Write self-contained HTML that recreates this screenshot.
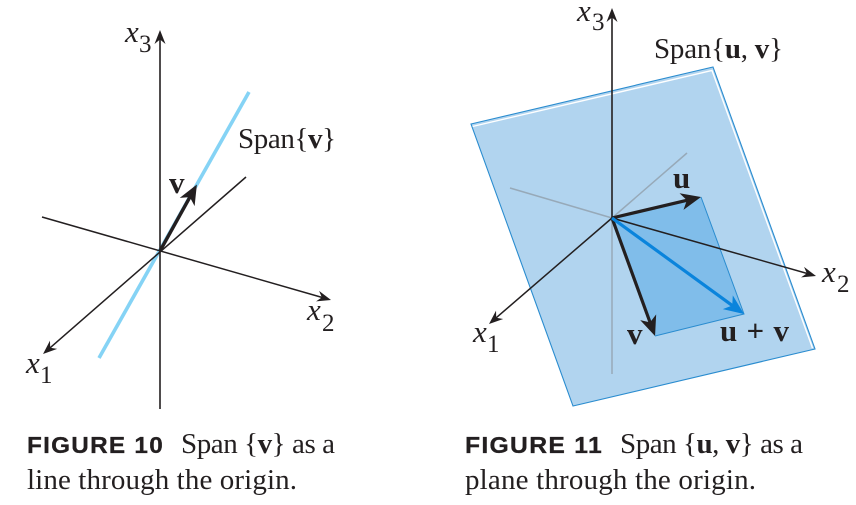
<!DOCTYPE html>
<html><head><meta charset="utf-8"><style>
html,body{margin:0;padding:0;background:#fff}
svg{display:block}
text{font-family:"Liberation Serif",serif;fill:#231f20}
.i{font-style:italic;font-size:31px}
.s{font-size:25px}
.b{font-weight:bold}
.c{font-size:29px}
.l{font-size:31px;font-weight:bold}
.f{font-family:"Liberation Sans",sans-serif;font-weight:bold;font-size:23px;letter-spacing:1.2px;stroke:#231f20;stroke-width:.3px}
</style></head><body>
<svg width="856" height="505" viewBox="0 0 856 505" xmlns="http://www.w3.org/2000/svg">
<defs>
<marker id="a" markerUnits="userSpaceOnUse" markerWidth="30" markerHeight="30" refX="15" refY="15" orient="auto" overflow="visible" viewBox="0 0 30 30"><path d="M20,15 L6,9.5 L10.5,15 L6,20.5 Z" fill="#231f20"/></marker>
<marker id="b" markerUnits="userSpaceOnUse" markerWidth="40" markerHeight="40" refX="20" refY="20" orient="auto" overflow="visible" viewBox="0 0 40 40"><path d="M28,20 L8,11.5 L13.5,20 L8,28.5 Z" fill="#231f20"/></marker>
<marker id="c" markerUnits="userSpaceOnUse" markerWidth="40" markerHeight="40" refX="20" refY="20" orient="auto" overflow="visible" viewBox="0 0 40 40"><path d="M28,20 L8,11.5 L13.5,20 L8,28.5 Z" fill="#0a84dc"/></marker>
</defs>

<!-- Figure 10 -->
<line x1="249" y1="92" x2="99" y2="358" stroke="#85d3f5" stroke-width="3.6"/>
<g stroke="#231f20" fill="none">
<line x1="160" y1="409" x2="160" y2="35" stroke-width="1.6" marker-end="url(#a)"/>
<line x1="42" y1="217" x2="326.2" y2="298.6" stroke-width="1.5" marker-end="url(#a)"/>
<line x1="246" y1="177" x2="46.8" y2="350.7" stroke-width="1.5" marker-end="url(#a)"/>
<line x1="160" y1="251" x2="193" y2="191.5" stroke-width="3.4" marker-end="url(#b)"/>
</g>
<text class="i" x="125" y="42">x</text><text class="s" x="139" y="52">3</text>
<text class="i" x="307" y="320">x</text><text class="s" x="322" y="331">2</text>
<text class="i" x="26" y="373">x</text><text class="s" x="40" y="383">1</text>
<text x="169" y="193" class="l">v</text>
<text x="238" y="148" font-size="29" textLength="98">Span{<tspan class="b">v</tspan>}</text>

<!-- Figure 11 -->
<polygon points="471,124 713,67 815,349 573,406" fill="#b1d4ef"/>
<polyline points="472.5,126.5 712,70.5 812.5,348" fill="none" stroke="#fff" stroke-width="1.4"/>
<polygon points="471,124 713,67 815,349 573,406" fill="none" stroke="#2a8ccf" stroke-width="1.1"/>
<g stroke="#97a9b8" stroke-width="1.5" fill="none">
<line x1="612" y1="218" x2="612" y2="374"/>
<line x1="612" y1="218" x2="687" y2="153"/>
<line x1="612" y1="218" x2="510" y2="188"/>
</g>
<polygon points="612,218 701,197 744,314 655,336" fill="#80bdea"/>
<polyline points="701,197 744,314 655,336" fill="none" stroke="#2a8ccf" stroke-width="1"/>
<g stroke="#231f20" fill="none">
<line x1="612" y1="218" x2="612" y2="13" stroke-width="1.6" marker-end="url(#a)"/>
<line x1="612" y1="218" x2="811.2" y2="274.6" stroke-width="1.5" marker-end="url(#a)"/>
<line x1="612" y1="218" x2="492.8" y2="320.7" stroke-width="1.5" marker-end="url(#a)"/>
<line x1="612" y1="218" x2="693.2" y2="198.8" stroke-width="3.2" marker-end="url(#b)"/>
<line x1="612" y1="218" x2="652.3" y2="328.5" stroke-width="3.2" marker-end="url(#b)"/>
</g>
<line x1="612" y1="218" x2="737.5" y2="309.3" stroke="#0a84dc" stroke-width="3.2" marker-end="url(#c)"/>
<text class="i" x="577" y="21">x</text><text class="s" x="592" y="30">3</text>
<text class="i" x="822" y="282">x</text><text class="s" x="837" y="292">2</text>
<text class="i" x="473" y="342">x</text><text class="s" x="487" y="352">1</text>
<text x="673" y="188" class="l">u</text>
<text x="627" y="344" class="l">v</text>
<text x="720" y="341" class="l" textLength="69">u + v</text>
<text x="654" y="58" font-size="29" textLength="129">Span{<tspan class="b">u</tspan>, <tspan class="b">v</tspan>}</text>

<!-- Captions -->
<text class="f" x="27" y="453" textLength="137" lengthAdjust="spacingAndGlyphs">FIGURE 10</text>
<text class="c" x="181" y="453" textLength="154">Span {<tspan class="b">v</tspan>} as a</text>
<text class="c" x="27" y="489" textLength="270">line through the origin.</text>
<text class="f" x="465" y="453" textLength="138" lengthAdjust="spacingAndGlyphs">FIGURE 11</text>
<text class="c" x="620" y="453" textLength="183">Span {<tspan class="b">u</tspan>, <tspan class="b">v</tspan>} as a</text>
<text class="c" x="465" y="489" textLength="291">plane through the origin.</text>
</svg>
</body></html>
